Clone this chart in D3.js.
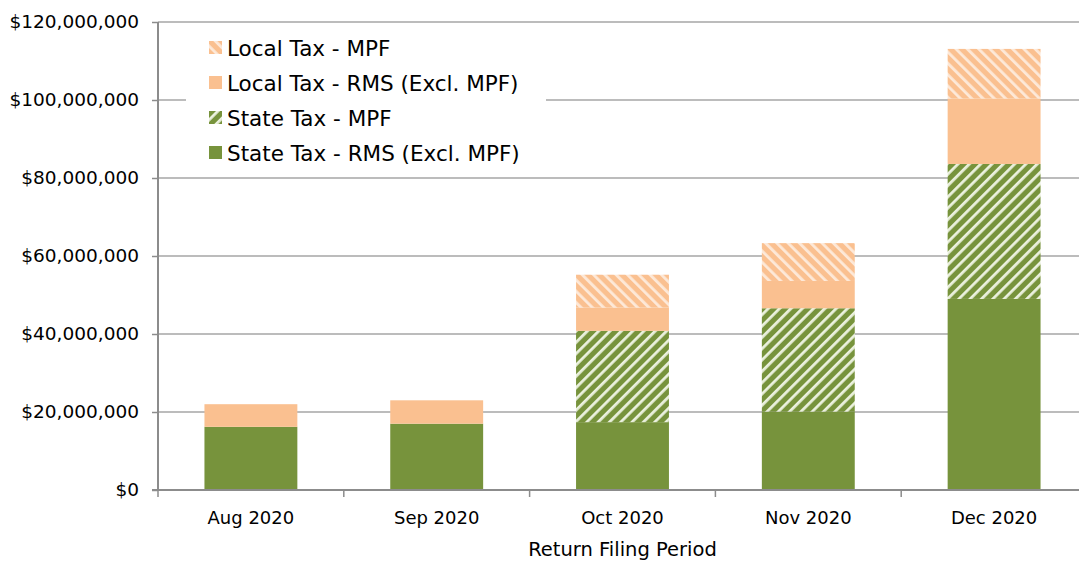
<!DOCTYPE html>
<html>
<head>
<meta charset="utf-8">
<script src="https://cdn.jsdelivr.net/npm/d3@7"></script>
<style>
  body { margin: 0; background: #fff; }
  svg { display: block; overflow: hidden; }
  text { font-family: "DejaVu Sans", sans-serif; fill: #000; }
</style>
</head>
<body>
<div id="chart"></div>
<script>
var width = 1079;
var height = 563;

var categories = ["Aug 2020", "Sep 2020", "Oct 2020", "Nov 2020", "Dec 2020"];
var stateRms = [16200000, 17000000, 17400000, 20100000, 49000000];
var stateMpf = [0, 0, 23400000, 26500000, 34600000];
var localRms = [5800000, 6000000, 6000000, 7000000, 16800000];
var localMpf = [0, 0, 8400000, 9700000, 12700000];
var yTicks = [0, 20000000, 40000000, 60000000, 80000000, 100000000, 120000000];

var keys = ["stateRms", "stateMpf", "localRms", "localMpf"];
var labels = {
    stateRms: "State Tax - RMS (Excl. MPF)",
    stateMpf: "State Tax - MPF",
    localRms: "Local Tax - RMS (Excl. MPF)",
    localMpf: "Local Tax - MPF"
};
var fills = {
    stateRms: "#77933c",
    stateMpf: "url(#hatchGreen)",
    localRms: "#fac090",
    localMpf: "url(#hatchPeach)"
};

var rows = categories.map(function(c, i) {
    return {cat: c, stateRms: stateRms[i], stateMpf: stateMpf[i],
            localRms: localRms[i], localMpf: localMpf[i]};
});

var margin = {left: 158, top: 22, bottom: 73};
var plotRight = 1087;

var x = d3.scaleBand()
    .domain(categories)
    .range([margin.left, plotRight])
    .paddingInner(0.5)
    .paddingOuter(0.25);

var y = d3.scaleLinear()
    .domain([0, 120000000])
    .range([height - margin.bottom, margin.top]);

var svg = d3.select("#chart")
    .append("svg")
    .attr("width", width)
    .attr("height", height);

var defs = svg.append("defs");

function hatch(id, bg, fg, angle) {
    var p = defs.append("pattern")
        .attr("id", id)
        .attr("patternUnits", "userSpaceOnUse")
        .attr("width", 8)
        .attr("height", 8)
        .attr("patternTransform", "rotate(" + angle + ")");
    p.append("rect").attr("width", 8).attr("height", 8).attr("fill", bg);
    p.append("rect").attr("width", 2.8).attr("height", 8).attr("fill", fg);
}
hatch("hatchGreen", "#77933c", "#ebf1de", 45);
hatch("hatchPeach", "#fac090", "#fde9d9", -45);

// gridlines
svg.append("g")
    .selectAll("line")
    .data(yTicks.slice(1))
    .enter()
    .append("line")
    .attr("x1", margin.left)
    .attr("x2", plotRight)
    .attr("y1", function(d) { return y(d); })
    .attr("y2", function(d) { return y(d); })
    .attr("stroke", "#a6a6a6")
    .attr("stroke-width", 1.5);

// bars
var series = d3.stack().keys(keys)(rows);

svg.append("g")
    .selectAll("g")
    .data(series)
    .enter()
    .append("g")
    .attr("fill", function(d) { return fills[d.key]; })
    .selectAll("rect")
    .data(function(d) { return d; })
    .enter()
    .append("rect")
    .attr("x", function(d) { return x(d.data.cat); })
    .attr("width", x.bandwidth())
    .attr("y", function(d) { return y(d[1]); })
    .attr("height", function(d) { return y(d[0]) - y(d[1]); });

// y axis
var yAxis = svg.append("g")
    .attr("transform", "translate(" + margin.left + ",0)")
    .call(d3.axisLeft(y)
        .tickValues(yTicks)
        .tickFormat(d3.format("$,"))
        .tickSize(6)
        .tickPadding(13));
yAxis.select(".domain").attr("stroke", "#8c8c8c").attr("stroke-width", 2)
    .attr("d", "M0," + y(0) + "V" + y(120000000));
yAxis.selectAll(".tick line").attr("stroke", "#8c8c8c").attr("stroke-width", 1.5);
yAxis.selectAll(".tick text")
    .style("font-family", "'DejaVu Sans', sans-serif")
    .style("font-size", "18.5px")
    .attr("fill", "#000");

// x axis
var xAxis = svg.append("g")
    .attr("transform", "translate(0," + y(0) + ")");
xAxis.append("line")
    .attr("x1", margin.left - 6)
    .attr("x2", plotRight)
    .attr("stroke", "#8c8c8c")
    .attr("stroke-width", 2);
var bounds = categories.map(function(c) { return x(c) - x.step() * x.paddingInner() / 2; });
bounds.push(plotRight);
xAxis.selectAll("line.cut")
    .data(bounds)
    .enter()
    .append("line")
    .attr("class", "cut")
    .attr("x1", function(d) { return d; })
    .attr("x2", function(d) { return d; })
    .attr("y1", 0)
    .attr("y2", 7)
    .attr("stroke", "#8c8c8c")
    .attr("stroke-width", 1.5);
xAxis.selectAll("text")
    .data(categories)
    .enter()
    .append("text")
    .attr("x", function(d) { return x(d) + x.bandwidth() / 2; })
    .attr("y", 34)
    .attr("text-anchor", "middle")
    .style("font-size", "18px")
    .text(function(d) { return d; });

svg.append("text")
    .attr("x", (margin.left + plotRight) / 2 - 0)
    .attr("y", 556)
    .attr("text-anchor", "middle")
    .style("font-size", "19.5px")
    .text("Return Filing Period");

// legend
var legend = svg.append("g");
legend.append("rect")
    .attr("x", 186)
    .attr("y", 28)
    .attr("width", 360)
    .attr("height", 144)
    .attr("fill", "#fff");

var legendKeys = keys.slice().reverse();
var item = legend.selectAll("g.item")
    .data(legendKeys)
    .enter()
    .append("g")
    .attr("class", "item")
    .attr("transform", function(d, i) { return "translate(209," + (48 + i * 35) + ")"; });
item.append("rect")
    .attr("x", 0)
    .attr("y", -7)
    .attr("width", 13)
    .attr("height", 13)
    .attr("fill", function(d) { return fills[d]; });
item.append("text")
    .attr("x", 18)
    .attr("y", 0)
    .attr("dy", "0.35em")
    .style("font-size", "21.5px")
    .text(function(d) { return labels[d]; });
</script>
</body>
</html>
